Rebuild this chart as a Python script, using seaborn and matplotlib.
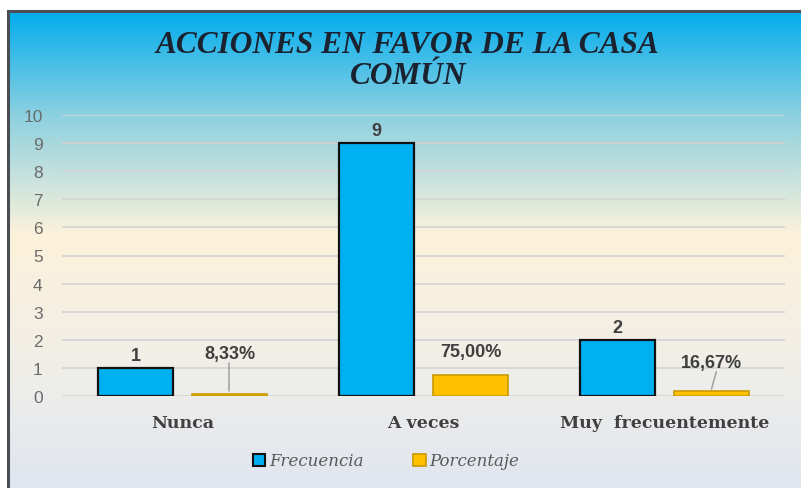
import numpy as np
import pandas as pd
import matplotlib
matplotlib.use("Agg")
import matplotlib.pyplot as plt
from matplotlib.colors import LinearSegmentedColormap
from matplotlib.patches import Rectangle, Patch
import seaborn as sns

categories = ["Nunca", "A veces", "Muy  frecuentemente"]
frecuencia = [1, 9, 2]
porcentaje = [0.0833, 0.75, 0.1667]
pct_labels = ["8,33%", "75,00%", "16,67%"]
series_names = ["Frecuencia", "Porcentaje"]
y_ticks = list(range(0, 11))

df = pd.DataFrame({
    "cat": categories * 2,
    "serie": [series_names[0]] * 3 + [series_names[1]] * 3,
    "valor": frecuencia + porcentaje,
})

sns.set_theme(style="white")
W, H = 801, 489
fig = plt.figure(figsize=(W / 100, H / 100), dpi=100, facecolor="white")

# background gradient inside the frame
bg = fig.add_axes([0, 0, 1, 1], zorder=-10)
stops = [(0.0, "#03ADEE"), (0.22, "#8ED1E0"), (0.47, "#FDF2DA"), (0.8, "#EDEDEA"), (1.0, "#E0E5EF")]
cmap = LinearSegmentedColormap.from_list("bgc", stops)
grad = np.linspace(0, 1, 256).reshape(-1, 1)
bg.imshow(grad, aspect="auto", cmap=cmap, extent=[8 / W, 1, 0, 1 - 12 / H], origin="upper")
bg.set_xlim(0, 1); bg.set_ylim(0, 1)
bg.axis("off")
bg.add_patch(Rectangle((8 / W, -0.1), 1.2, (489 - 12) / H + 0.1, fill=False,
                       edgecolor="#4A4F55", linewidth=2.2, transform=bg.transAxes))

ax = fig.add_axes([62 / W, (489 - 397) / H, (785 - 62) / W, (397 - 116) / H])
ax.patch.set_alpha(0)
palette = {"Frecuencia": "#00B0F0", "Porcentaje": "#FFC000"}
sns.barplot(data=df, x="cat", y="valor", hue="serie", palette=palette,
            width=0.78, gap=0.2, ax=ax, legend=False, saturation=1)

for p in ax.patches:
    fc = p.get_facecolor()
    if fc[2] > 0.5:
        p.set_edgecolor("#111111")
        p.set_linewidth(1.6)
    else:
        p.set_edgecolor("#C99A00")
        p.set_linewidth(1.2)

ax.set_ylim(0, 10)
ax.set_xlim(-0.5, 2.5)
ax.set_yticks(y_ticks)
ax.yaxis.grid(True, color="#D3D3D3", linewidth=1.2)
ax.set_axisbelow(True)
for s in ax.spines.values():
    s.set_visible(False)
ax.set_xlabel(""); ax.set_ylabel("")
ax.tick_params(axis="y", length=0, pad=14, labelsize=12.5, labelcolor="#6B6B6B")
ax.tick_params(axis="x", length=0, pad=13)
for t in ax.get_yticklabels():
    t.set_fontfamily("Liberation Sans")
ax.set_xticks(range(3))
ax.set_xticklabels(categories, fontfamily="DejaVu Serif", fontweight="bold",
                   fontsize=12.5, color="#404040")

# data labels
blue_patches = ax.patches[:3]
yellow_patches = ax.patches[3:6]
for p, v in zip(blue_patches, frecuencia):
    cx = p.get_x() + p.get_width() / 2
    ax.text(cx, v + 0.45, str(v), ha="center", va="center", fontsize=13,
            fontweight="bold", color="#3F3F3F", fontfamily="Liberation Sans")
pct_y = [1.5, 1.57, 1.18]
dx = [0.0, 0.0, 0.02]
for p, v, lab, ly, d in zip(yellow_patches, porcentaje, pct_labels, pct_y, dx):
    cx = p.get_x() + p.get_width() / 2
    ax.text(cx, ly, lab, ha="center", va="center", fontsize=13,
            fontweight="bold", color="#3F3F3F", fontfamily="Liberation Sans")
    if v < 0.5:
        ax.plot([cx + d, cx], [ly - 0.32, v + 0.08], color="#A0A0A0", lw=1.1)

fig.text(408 / W, 1 - 61 / H, "ACCIONES EN FAVOR DE LA CASA\nCOMÚN", ha="center", va="center",
         fontfamily="Liberation Serif", fontweight="bold", fontstyle="italic",
         fontsize=22.5, color="#1A2230", linespacing=1.1)

handles = [Patch(facecolor="#00B0F0", edgecolor="#111111", linewidth=1.5),
           Patch(facecolor="#FFC000", edgecolor="#C99A00", linewidth=1.2)]
leg = fig.legend(handles, series_names, loc="center", bbox_to_anchor=(386 / W, 1 - 462 / H),
                 ncol=2, frameon=False, handlelength=0.75, handleheight=0.75,
                 handletextpad=0.2, columnspacing=3.0,
                 prop={"family": "DejaVu Serif", "style": "italic", "size": 12})
for t in leg.get_texts():
    t.set_color("#595959")

fig.savefig("out.png", dpi=100)
